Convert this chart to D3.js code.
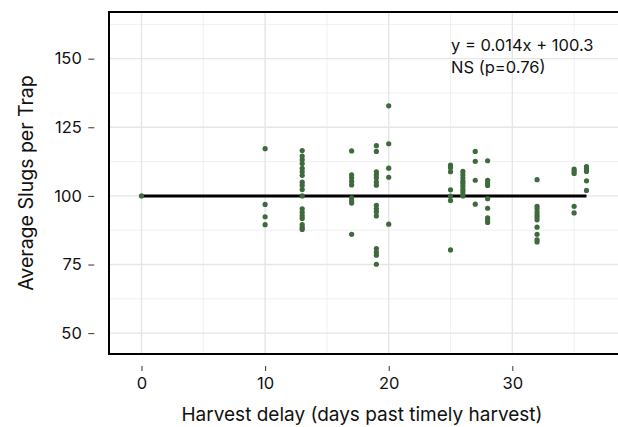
<!DOCTYPE html>
<html>
<head>
<meta charset="utf-8">
<script src="https://cdn.jsdelivr.net/npm/d3@7"></script>
<style>
  body { margin: 0; background: #fff; }
  text { font-family: Inter, "Open Sans", sans-serif; fill: #111; }
</style>
</head>
<body>
<div id="chart"></div>
<script>
// Datos
const delays = [0, 10, 13, 17, 19, 20, 25, 26, 27, 28, 32, 35, 36];
const slugs = [
  [100.0],
  [117.2, 96.9, 92.4, 89.5],
  [116.5, 114.5, 113.2, 111.8, 110.0, 108.8, 107.5, 105.0, 103.8, 102.3, 100.0, 95.3, 94.0, 92.8, 91.8, 89.5, 88.5, 87.8],
  [116.4, 107.7, 106.6, 105.3, 104.0, 99.3, 98.3, 97.4, 86.0],
  [118.3, 116.2, 108.8, 107.7, 106.6, 105.1, 103.9, 96.6, 95.3, 94.2, 92.7, 80.8, 79.5, 78.4, 75.1],
  [132.8, 119.0, 110.1, 106.8, 89.7],
  [111.2, 110.3, 108.8, 102.2, 99.9, 98.3, 80.3],
  [108.9, 107.7, 106.5, 105.3, 104.5, 103.5, 102.3, 101.5, 100.5, 100.0],
  [116.2, 112.6, 105.7, 97.0],
  [112.8, 105.7, 104.7, 103.8, 99.0, 95.5, 92.0, 91.2, 90.3],
  [105.9, 96.2, 95.3, 94.1, 93.1, 92.3, 91.3, 88.6, 86.0, 84.0, 83.2],
  [109.8, 109.0, 108.2, 96.2, 93.8],
  [110.7, 109.8, 108.9, 105.5, 102.0]
];
// Línea de referencia (tal como se ve: plana en 100, de 0 a 36 días)
const lineX = [0, 36];
const lineY = [100, 100];
const xTicks = [0, 10, 20, 30];
const xMinor = [5, 15, 25, 35];
const yTicks = [50, 75, 100, 125, 150];
const yMinor = [62.5, 87.5, 112.5, 137.5, 162.5];
const labelEq = 'y = 0.014x + 100.3';
const labelP = 'NS (p=0.76)';

const COLOR_POINT = '#3e6a3d';

let points = [];
delays.forEach(function(d, i) {
  slugs[i].forEach(function(v) { points.push({x: d, y: v}); });
});

const W = 618, H = 427;
let panel = {left: 109, right: 619, top: 12, bottom: 354};

let svg = d3.select('#chart').append('svg')
  .attr('width', W).attr('height', H);

let x = d3.scaleLinear().domain([-2.63, 38.63]).range([panel.left, panel.right]);
let y = d3.scaleLinear().domain([42.4, 167]).range([panel.bottom, panel.top]);

let grid = svg.append('g');
grid.selectAll('.vminor').data(xMinor).enter().append('line')
  .attr('x1', d => x(d)).attr('x2', d => x(d))
  .attr('y1', panel.top).attr('y2', panel.bottom)
  .attr('stroke', '#ececec').attr('stroke-width', 0.8);
grid.selectAll('.hminor').data(yMinor).enter().append('line')
  .attr('y1', d => y(d)).attr('y2', d => y(d))
  .attr('x1', panel.left).attr('x2', panel.right)
  .attr('stroke', '#ececec').attr('stroke-width', 0.8);
grid.selectAll('.vmajor').data(xTicks).enter().append('line')
  .attr('x1', d => x(d)).attr('x2', d => x(d))
  .attr('y1', panel.top).attr('y2', panel.bottom)
  .attr('stroke', '#e6e6e6').attr('stroke-width', 1.4);
grid.selectAll('.hmajor').data(yTicks).enter().append('line')
  .attr('y1', d => y(d)).attr('y2', d => y(d))
  .attr('x1', panel.left).attr('x2', panel.right)
  .attr('stroke', '#e6e6e6').attr('stroke-width', 1.4);

// Línea horizontal
svg.append('line')
  .attr('x1', x(lineX[0])).attr('y1', y(lineY[0]))
  .attr('x2', x(lineX[1])).attr('y2', y(lineY[1]))
  .attr('stroke', '#000').attr('stroke-width', 3);

// Puntos
svg.append('g').selectAll('circle').data(points).enter().append('circle')
  .attr('cx', d => x(d.x)).attr('cy', d => y(d.y))
  .attr('r', 2.6).attr('fill', COLOR_POINT);

// Marco del panel
svg.append('rect')
  .attr('x', panel.left).attr('y', panel.top)
  .attr('width', panel.right - panel.left).attr('height', panel.bottom - panel.top)
  .attr('fill', 'none').attr('stroke', '#000').attr('stroke-width', 2);

// Eje X
let xAxis = function(g) {
  g.call(d3.axisBottom(x).tickValues(xTicks).tickSize(5));
  g.call(function(g) { g.select('.domain').remove(); });
  g.selectAll('.tick line').attr('stroke', '#333');
  g.selectAll('.tick text').attr('font-size', 16.5).attr('fill', '#111')
    .attr('y', 23.3).attr('dy', 0)
    .style('font-family', 'Inter, sans-serif');
};
svg.append('g').attr('transform', 'translate(0,366)').call(xAxis);

// Eje Y
let yAxis = function(g) {
  g.call(d3.axisLeft(y).tickValues(yTicks).tickSize(6).tickPadding(6.5));
  g.call(function(g) { g.select('.domain').remove(); });
  g.selectAll('.tick line').attr('stroke', '#333');
  g.selectAll('.tick text').attr('font-size', 16.5).attr('fill', '#111')
    .style('font-family', 'Inter, sans-serif');
};
svg.append('g').attr('transform', 'translate(94.3,0)').call(yAxis);

// Títulos
svg.append('text')
  .attr('x', 362).attr('y', 421)
  .attr('text-anchor', 'middle').attr('font-size', 19)
  .text('Harvest delay (days past timely harvest)');

svg.append('text')
  .attr('transform', 'translate(33,183) rotate(-90)')
  .attr('text-anchor', 'middle').attr('font-size', 19.5)
  .text('Average Slugs per Trap');

// Anotación
svg.append('text').attr('x', 451).attr('y', 51).attr('font-size', 16.5).text(labelEq);
svg.append('text').attr('x', 451).attr('y', 73).attr('font-size', 16.5).text(labelP);
</script>
</body>
</html>
